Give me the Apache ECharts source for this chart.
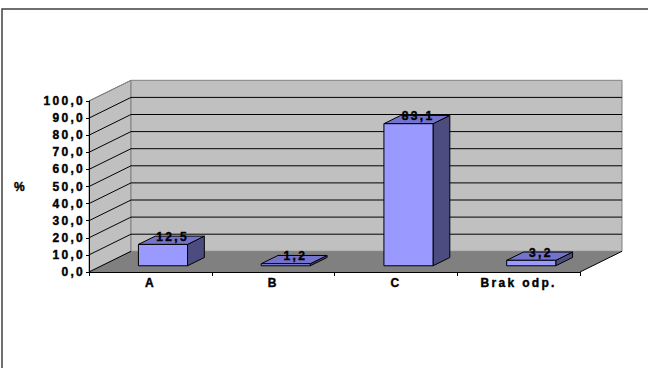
<!DOCTYPE html>
<html>
<head>
<meta charset="utf-8">
<script src="https://cdn.jsdelivr.net/npm/echarts@6/dist/echarts.min.js"></script>
<style>
  html, body { margin: 0; padding: 0; background: #ffffff; }
  #chart { width: 648px; height: 368px; }
  /* wide, spaced-out lettering of the chart texts */
  #chart text { letter-spacing: 2.3px; }
</style>
</head>
<body>
<div id="chart"></div>
<script>
// Survey answers, share of respondents (%)
const categories = ['A', 'B', 'C', 'Brak odp.'];
const percentValues = [12.5, 1.2, 83.1, 3.2];
const yTicks = [0, 10, 20, 30, 40, 50, 60, 70, 80, 90, 100];
const axisTitle = '%';

// 3D look: depth offset of the back wall, and where the columns sit in depth
const DEPTH_X = 42, DEPTH_Y = -20.7;
const BAR_FRONT = 0.3, BAR_BACK = 0.7, BAR_WIDTH = 0.4;
const FONT = '"Liberation Sans", Arial, sans-serif';
const FONT_SIZE = 12;
const TEXT_WEIGHT = { textBorderColor: '#000000', textBorderWidth: 0.4 };
const fmt = v => v.toFixed(1).replace('.', ',');

const chart = echarts.init(document.getElementById('chart'), null, { renderer: 'svg' });

// side wall, back wall, floor and their gridlines
function renderWalls(params, api) {
  const cs = params.coordSys;
  const L = cs.x, R = cs.x + cs.width;
  const y0 = api.coord([0, yTicks[0]])[1];
  const yTop = api.coord([0, yTicks[yTicks.length - 1]])[1];
  const dx = DEPTH_X, dy = DEPTH_Y;
  const kids = [];
  kids.push({ type: 'polygon', shape: { points: [[L, y0], [L, yTop], [L + dx, yTop + dy], [L + dx, y0 + dy]] },
              style: { fill: '#c0c0c0', stroke: '#808080', lineWidth: 1 } });
  kids.push({ type: 'rect', shape: { x: L + dx, y: yTop + dy, width: R - L, height: y0 - yTop },
              style: { fill: '#c0c0c0', stroke: '#808080', lineWidth: 1 } });
  kids.push({ type: 'polygon', shape: { points: [[L, y0], [R, y0], [R + dx, y0 + dy], [L + dx, y0 + dy]] },
              style: { fill: '#808080', stroke: null } });
  yTicks.forEach((t, k) => {
    const y = api.coord([0, t])[1];
    const last = k === yTicks.length - 1;
    kids.push({ type: 'line', shape: { x1: L, y1: y, x2: L + dx, y2: y + dy },
                style: { stroke: last ? '#808080' : '#000000', lineWidth: 1 } });
    if (k > 0 && !last) {
      kids.push({ type: 'line', shape: { x1: L + dx, y1: y + dy, x2: R + dx, y2: y + dy },
                  style: { stroke: '#000000', lineWidth: 1 } });
    }
  });
  kids.push({ type: 'line', shape: { x1: R, y1: y0, x2: R + dx, y2: y0 + dy },
              style: { stroke: '#000000', lineWidth: 1 } });
  return { type: 'group', children: kids };
}

// one 3D column: side face, top face, front face and its value label
function renderBar(params, api) {
  const i = api.value(0), v = api.value(1);
  const base = api.coord([i, 0]);
  const top = api.coord([i, v]);
  const w = api.size([1, 0])[0] * BAR_WIDTH;
  const fx = DEPTH_X * BAR_FRONT, fy = DEPTH_Y * BAR_FRONT;
  const ddx = DEPTH_X * (BAR_BACK - BAR_FRONT), ddy = DEPTH_Y * (BAR_BACK - BAR_FRONT);
  const x0 = base[0] - w / 2 + fx, x1 = x0 + w;
  const yb = base[1] + fy, yt = top[1] + fy;
  const edge = { stroke: '#000000', lineWidth: 1, lineJoin: 'round' };
  return {
    type: 'group',
    children: [
      { type: 'polygon', shape: { points: [[x1, yb], [x1, yt], [x1 + ddx, yt + ddy], [x1 + ddx, yb + ddy]] },
        style: Object.assign({ fill: '#4c4c80' }, edge) },
      { type: 'polygon', shape: { points: [[x0, yt], [x1, yt], [x1 + ddx, yt + ddy], [x0 + ddx, yt + ddy]] },
        style: Object.assign({ fill: '#7373cc' }, edge) },
      { type: 'rect', shape: { x: x0, y: yt, width: w, height: yb - yt },
        style: Object.assign({ fill: '#9999ff' }, edge) },
      { type: 'text', x: x0 + w / 2 + ddx / 2 + 1.2, y: yt + ddy / 2 + 2.5,
        style: { text: fmt(v), fill: '#000000', font: 'bold ' + FONT_SIZE + 'px ' + FONT,
                 stroke: '#000000', lineWidth: 0.4,
                 align: 'center', verticalAlign: 'bottom',
                 textAlign: 'center', textVerticalAlign: 'bottom' } }
    ]
  };
}

const labelFont = Object.assign({ color: '#000000', fontWeight: 'bold', fontSize: FONT_SIZE, fontFamily: FONT }, TEXT_WEIGHT);

chart.setOption({
  animation: false,
  backgroundColor: '#ffffff',
  grid: { left: 89, right: 68, top: 101, bottom: 96, outerBoundsMode: 'none' },
  xAxis: {
    type: 'category',
    data: categories,
    z: 10,
    axisLine: { lineStyle: { color: '#000000', width: 1 } },
    axisTick: { show: true, length: 4, lineStyle: { color: '#000000' } },
    axisLabel: Object.assign({ interval: 0, margin: 5 }, labelFont),
    splitLine: { show: false }
  },
  yAxis: {
    type: 'value',
    min: yTicks[0],
    max: yTicks[yTicks.length - 1],
    interval: yTicks[1] - yTicks[0],
    z: 10,
    name: axisTitle,
    nameLocation: 'middle',
    nameRotate: 0,
    nameGap: 62,
    nameTextStyle: labelFont,
    axisLine: { show: true, lineStyle: { color: '#000000', width: 1 } },
    axisTick: { show: true, length: 3, lineStyle: { color: '#000000' } },
    axisLabel: Object.assign({ margin: 4, formatter: fmt }, labelFont),
    splitLine: { show: false }
  },
  graphic: [{
    type: 'rect', silent: true, z: 100,
    shape: { x: 2, y: 9, width: 700, height: 400 },
    style: { fill: null, stroke: '#404040', lineWidth: 1.5 }
  }],
  series: [
    { type: 'custom', name: 'walls', z: 1, silent: true, renderItem: renderWalls, data: [[0, 0]] },
    { type: 'custom', name: '%', z: 3, renderItem: renderBar,
      data: percentValues.map((v, i) => [i, v]) }
  ]
});
</script>
</body>
</html>
